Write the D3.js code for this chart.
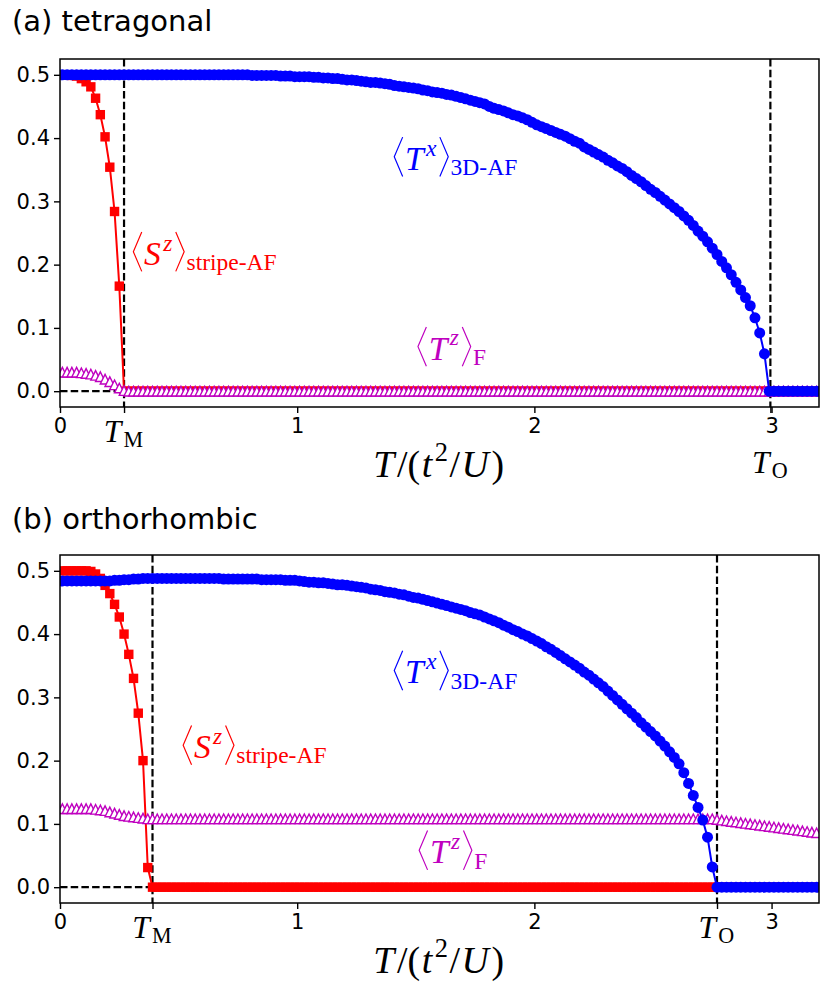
<!DOCTYPE html>
<html>
<head>
<meta charset="utf-8">
<script src="https://cdn.jsdelivr.net/npm/d3@7"></script>
<style>
  body { margin: 0; background: #fff; }
  svg { display: block; }
</style>
</head>
<body>
<div id="chart"></div>
<script>
// ------DATA------
// sample temperatures T/(t^2/U)
const temps = [
  0.01,0.03,0.05,0.07,0.09,0.11,0.13,0.15,0.17,0.19,
  0.21,0.23,0.25,0.27,0.29,0.31,0.33,0.35,0.37,0.39,
  0.41,0.43,0.45,0.47,0.49,0.51,0.53,0.55,0.57,0.59,
  0.61,0.63,0.65,0.67,0.69,0.71,0.73,0.75,0.77,0.79,
  0.81,0.83,0.85,0.87,0.89,0.91,0.93,0.95,0.97,0.99,
  1.01,1.03,1.05,1.07,1.09,1.11,1.13,1.15,1.17,1.19,
  1.21,1.23,1.25,1.27,1.29,1.31,1.33,1.35,1.37,1.39,
  1.41,1.43,1.45,1.47,1.49,1.51,1.53,1.55,1.57,1.59,
  1.61,1.63,1.65,1.67,1.69,1.71,1.73,1.75,1.77,1.79,
  1.81,1.83,1.85,1.87,1.89,1.91,1.93,1.95,1.97,1.99,
  2.01,2.03,2.05,2.07,2.09,2.11,2.13,2.15,2.17,2.19,
  2.21,2.23,2.25,2.27,2.29,2.31,2.33,2.35,2.37,2.39,
  2.41,2.43,2.45,2.47,2.49,2.51,2.53,2.55,2.57,2.59,
  2.61,2.63,2.65,2.67,2.69,2.71,2.73,2.75,2.77,2.79,
  2.81,2.83,2.85,2.87,2.89,2.91,2.93,2.95,2.97,2.99,
  3.01,3.03,3.05,3.07,3.09,3.11,3.13,3.15,3.17,3.19
]

// (a) tetragonal
const aStripe = [
  0.500,0.500,0.499,0.498,0.494,0.489,0.481,0.463,0.437,0.402,
  0.354,0.284,0.166,0,0,0,0,0,0,0,
  0,0,0,0,0,0,0,0,0,0,  0,0,0,0,0,0,0,0,0,0,
  0,0,0,0,0,0,0,0,0,0,  0,0,0,0,0,0,0,0,0,0,
  0,0,0,0,0,0,0,0,0,0,  0,0,0,0,0,0,0,0,0,0,
  0,0,0,0,0,0,0,0,0,0,  0,0,0,0,0,0,0,0,0,0,
  0,0,0,0,0,0,0,0,0,0,  0,0,0,0,0,0,0,0,0,0,
  0,0,0,0,0,0,0,0,0,0,  0,0,0,0,0,0,0,0,0,0,
  0,0,0,0,0,0,0,0,0,0,  0,0,0,0,0,0,0,0,0,0
]
const aTz = [
  0.030,0.030,0.030,0.030,0.029,0.028,0.027,0.025,0.023,0.019,
  0.015,0.010,0.005,0.001,0,0,0,0,0,0,
  0,0,0,0,0,0,0,0,0,0,  0,0,0,0,0,0,0,0,0,0,
  0,0,0,0,0,0,0,0,0,0,  0,0,0,0,0,0,0,0,0,0,
  0,0,0,0,0,0,0,0,0,0,  0,0,0,0,0,0,0,0,0,0,
  0,0,0,0,0,0,0,0,0,0,  0,0,0,0,0,0,0,0,0,0,
  0,0,0,0,0,0,0,0,0,0,  0,0,0,0,0,0,0,0,0,0,
  0,0,0,0,0,0,0,0,0,0,  0,0,0,0,0,0,0,0,0,0,
  0,0,0,0,0,0,0,0,0,0,  0,0,0,0,0,0,0,0,0,0
]
const aTx = [
  0.500,0.500,0.500,0.500,0.500,0.500,0.500,0.500,0.500,0.500,
  0.500,0.500,0.500,0.500,0.500,0.500,0.500,0.500,0.500,0.500,
  0.500,0.500,0.500,0.500,0.500,0.500,0.500,0.500,0.500,0.500,
  0.500,0.500,0.500,0.500,0.500,0.500,0.500,0.500,0.500,0.500,
  0.499,0.499,0.499,0.499,0.499,0.499,0.498,0.498,0.498,0.497,
  0.497,0.497,0.497,0.496,0.496,0.495,0.495,0.494,0.494,0.493,
  0.492,0.492,0.491,0.490,0.489,0.488,0.488,0.487,0.486,0.485,
  0.483,0.482,0.481,0.480,0.479,0.478,0.476,0.475,0.473,0.472,
  0.471,0.469,0.468,0.466,0.464,0.462,0.460,0.458,0.456,0.454,
  0.450,0.447,0.445,0.443,0.440,0.437,0.435,0.432,0.429,0.425,
  0.421,0.418,0.415,0.412,0.409,0.406,0.403,0.399,0.395,0.392,
  0.386,0.382,0.378,0.374,0.370,0.365,0.361,0.356,0.352,0.347,
  0.341,0.336,0.331,0.325,0.319,0.314,0.308,0.302,0.296,0.290,
  0.284,0.277,0.270,0.262,0.253,0.245,0.236,0.226,0.216,0.205,
  0.195,0.184,0.172,0.160,0.148,0.135,0.116,0.092,0.059,0,
  0,0,0,0,0,0,0,0,0,0
]

// (b) orthorhombic
const bStripe = [
  0.500,0.500,0.500,0.500,0.500,0.500,0.499,0.495,0.488,0.477,
  0.464,0.447,0.427,0.400,0.368,0.330,0.275,0.200,0.031,0,
  0,0,0,0,0,0,0,0,0,0,  0,0,0,0,0,0,0,0,0,0,
  0,0,0,0,0,0,0,0,0,0,  0,0,0,0,0,0,0,0,0,0,
  0,0,0,0,0,0,0,0,0,0,  0,0,0,0,0,0,0,0,0,0,
  0,0,0,0,0,0,0,0,0,0,  0,0,0,0,0,0,0,0,0,0,
  0,0,0,0,0,0,0,0,0,0,  0,0,0,0,0,0,0,0,0,0,
  0,0,0,0,0,0,0,0,0,0,  0,0,0,0,0,0,0,0,0,0,
  0,0,0,0,0,0,0,0,0,0,  0,0,0,0,0,0,0,0,0,0
]
const bTz = [
  0.124,0.124,0.124,0.124,0.124,0.124,0.124,0.123,0.122,0.121,
  0.119,0.117,0.115,0.113,0.112,0.111,0.110,0.109,0.108,0.108,
  0.108,0.108,0.108,0.108,0.108,0.108,0.108,0.108,0.108,0.108,
  0.108,0.108,0.108,0.108,0.108,0.108,0.108,0.108,0.108,0.108,
  0.108,0.108,0.108,0.108,0.108,0.108,0.108,0.108,0.108,0.108,
  0.108,0.108,0.108,0.108,0.108,0.108,0.108,0.108,0.108,0.108,
  0.108,0.108,0.108,0.108,0.108,0.108,0.108,0.108,0.108,0.108,
  0.108,0.108,0.108,0.108,0.108,0.108,0.108,0.108,0.108,0.108,
  0.108,0.108,0.108,0.108,0.108,0.108,0.108,0.108,0.108,0.108,
  0.108,0.108,0.108,0.108,0.108,0.108,0.108,0.108,0.108,0.108,
  0.108,0.108,0.108,0.108,0.108,0.108,0.108,0.108,0.108,0.108,
  0.108,0.108,0.108,0.108,0.108,0.108,0.108,0.108,0.108,0.108,
  0.108,0.108,0.108,0.108,0.108,0.108,0.108,0.108,0.108,0.108,
  0.108,0.108,0.108,0.108,0.108,0.108,0.108,0.108,0.107,0.106,
  0.105,0.104,0.103,0.102,0.101,0.100,0.099,0.098,0.097,0.096,
  0.095,0.094,0.093,0.092,0.091,0.090,0.089,0.088,0.087,0.086
]
const bTx = [
  0.484,0.484,0.484,0.484,0.484,0.484,0.484,0.484,0.484,0.484,
  0.484,0.485,0.485,0.486,0.486,0.487,0.487,0.488,0.488,0.488,
  0.488,0.488,0.488,0.488,0.488,0.488,0.488,0.488,0.488,0.488,
  0.488,0.488,0.488,0.488,0.487,0.487,0.487,0.487,0.487,0.487,
  0.487,0.487,0.486,0.486,0.486,0.486,0.486,0.485,0.485,0.485,
  0.484,0.483,0.482,0.482,0.481,0.481,0.480,0.479,0.478,0.478,
  0.477,0.476,0.475,0.474,0.473,0.471,0.470,0.469,0.467,0.466,
  0.465,0.463,0.462,0.460,0.458,0.457,0.455,0.453,0.451,0.449,
  0.447,0.445,0.443,0.441,0.439,0.437,0.434,0.432,0.430,0.427,
  0.424,0.421,0.418,0.414,0.411,0.407,0.404,0.400,0.397,0.393,
  0.389,0.385,0.380,0.376,0.371,0.366,0.361,0.356,0.351,0.346,
  0.340,0.335,0.329,0.323,0.317,0.310,0.303,0.296,0.289,0.282,
  0.275,0.268,0.260,0.253,0.246,0.239,0.231,0.223,0.214,0.205,
  0.195,0.181,0.164,0.145,0.126,0.106,0.079,0.032,0,0,
  0,0,0,0,0,0,0,0,0,0,
  0,0,0,0,0,0,0,0,0,0
]

const xTicks = [0, 1, 2, 3]
const yTicks = [0.0, 0.1, 0.2, 0.3, 0.4, 0.5]
// ------END OF DATA------

const width = 830, height = 995
const plotLeft = 60, plotRight = 819, plotH = 348
const mathFont = "'Liberation Serif', 'DejaVu Serif', serif"
const sansFont = "'DejaVu Sans', sans-serif"
const RED = "#ff0000", BLUE = "#0000ff", MAG = "#bf00bf"

// panel settings (positions in data units)
const panels = [
  { title: "(a) tetragonal", top: 59, titleY: 31,
    stripe: aStripe, tz: aTz, tx: aTx, tM: 0.27, tO: 2.995, tOShift: 31,
    txLabel: [1.405, 0.35], szLabel: [0.305, 0.20], tzLabel: [1.505, 0.05] },
  { title: "(b) orthorhombic", top: 555, titleY: 529,
    stripe: bStripe, tz: bTz, tx: bTx, tM: 0.39, tO: 2.77, tOShift: 0,
    txLabel: [1.405, 0.322], szLabel: [0.515, 0.204], tzLabel: [1.51, 0.038] }
]

const svg = d3.select("#chart").append("svg")
  .attr("width", width).attr("height", height)
  .attr("viewBox", `0 0 ${width} ${height}`)

svg.append("rect").attr("width", width).attr("height", height).attr("fill", "#fff")

// Lays out a small piece of math text, returns group and width
function mathLabel(parent, parts, size, color) {
  const g = parent.append("g")
  let cx = 0
  parts.forEach(([kind, str]) => {
    if (kind === "lb" || kind === "rb") {
      const w = 0.25 * size
      const top = -0.97 * size, bot = 0.2 * size, mid = (top + bot) / 2
      const x0 = cx + 0.03 * size
      const d = kind === "lb"
        ? `M${x0 + w},${top}L${x0},${mid}L${x0 + w},${bot}`
        : `M${x0},${top}L${x0 + w},${mid}L${x0},${bot}`
      g.append("path").attr("d", d).attr("fill", "none")
        .attr("stroke", color).attr("stroke-width", Math.max(1, size * 0.035))
      cx += w + 0.1 * size
      return
    }
    const small = kind.startsWith("sup") || kind.startsWith("sub")
    const fs = small ? size * 0.7 : size
    const dy = kind.startsWith("sup") ? -0.42 * size : kind.startsWith("sub") ? 0.16 * size : 0
    const italic = kind === "i" || kind === "supi"
    const t = g.append("text")
      .attr("x", cx).attr("y", dy)
      .attr("font-size", fs)
      .attr("font-family", mathFont)
      .attr("font-style", italic ? "italic" : "normal")
      .attr("fill", color)
      .text(str)
    cx += t.node().getComputedTextLength() + (italic ? 0.07 : 0.04) * size
  })
  return { g, width: cx }
}

panels.forEach((p, i) => {
  const x = d3.scaleLinear().domain([0, 3.2]).range([plotLeft, plotRight])
  const y = d3.scaleLinear().domain([-0.025, 0.525]).range([p.top + plotH, p.top])
  const bottom = p.top + plotH

  // title
  svg.append("text")
    .attr("x", 12).attr("y", p.titleY)
    .attr("font-family", sansFont).attr("font-size", 29)
    .text(p.title)

  // clip for data
  svg.append("clipPath").attr("id", "clip" + i)
    .append("rect").attr("x", plotLeft).attr("y", p.top)
    .attr("width", plotRight - plotLeft).attr("height", plotH)

  const plot = svg.append("g").attr("clip-path", `url(#clip${i})`)

  // dashed guide lines
  const dash = "7.5,3.2"
  const guide = (x1, x2, y1, y2) => plot.append("line")
    .attr("x1", x1).attr("x2", x2).attr("y1", y1).attr("y2", y2)
    .attr("stroke", "#000").attr("stroke-width", 2.2).attr("stroke-dasharray", dash)
  guide(x(p.tM), x(p.tM), p.top, bottom)
  guide(x(p.tO), x(p.tO), p.top, bottom)
  guide(x(0), x(p.tM), y(0), y(0))

  const line = d3.line().x((d, j) => x(temps[j])).y(d => y(d))

  // stripe-AF order (red squares)
  plot.append("path").datum(p.stripe).attr("d", line)
    .attr("fill", "none").attr("stroke", RED).attr("stroke-width", 2)
  plot.append("g").selectAll("rect").data(p.stripe).join("rect")
    .attr("x", (d, j) => x(temps[j]) - 4.7).attr("y", d => y(d) - 4.7)
    .attr("width", 9.4).attr("height", 9.4).attr("fill", RED)

  // ferro Tz (magenta open triangles)
  plot.append("path").datum(p.tz).attr("d", line)
    .attr("fill", "none").attr("stroke", MAG).attr("stroke-width", 2)
  const tri = 4.8
  plot.append("g").selectAll("path").data(p.tz).join("path")
    .attr("d", (d, j) => {
      const cx = x(temps[j]), cy = y(d)
      return `M${cx},${cy - tri}L${cx - tri},${cy + tri}L${cx + tri},${cy + tri}Z`
    })
    .attr("fill", "#fff").attr("stroke", MAG).attr("stroke-width", 1.4)

  // 3D-AF Tx (blue circles)
  plot.append("path").datum(p.tx).attr("d", line)
    .attr("fill", "none").attr("stroke", BLUE).attr("stroke-width", 2)
  plot.append("g").selectAll("circle").data(p.tx).join("circle")
    .attr("cx", (d, j) => x(temps[j])).attr("cy", d => y(d))
    .attr("r", 5.5).attr("fill", BLUE)

  // axes
  const yAxis = svg.append("g").attr("transform", `translate(${plotLeft},0)`)
    .call(d3.axisLeft(y).tickValues(yTicks).tickFormat(d3.format(".1f")).tickSize(6).tickPadding(4))
  const xAxis = svg.append("g").attr("transform", `translate(0,${bottom})`)
    .call(d3.axisBottom(x).tickValues(xTicks.concat([p.tM, p.tO]))
      .tickFormat(d => xTicks.includes(d) ? d3.format("d")(d) : "")
      .tickSize(6).tickPadding(5))
  ;[xAxis, yAxis].forEach(a => {
    a.select(".domain").remove()
    a.selectAll(".tick line").attr("stroke", "#000").attr("stroke-width", 1.4)
    a.selectAll(".tick text").attr("font-family", sansFont).attr("font-size", 21).attr("fill", "#000")
  })

  // frame
  svg.append("rect")
    .attr("x", plotLeft).attr("y", p.top)
    .attr("width", plotRight - plotLeft).attr("height", plotH)
    .attr("fill", "none").attr("stroke", "#000").attr("stroke-width", 1.5)

  // T_M and T_O tick labels
  const tickSize = 31.5
  const mLab = mathLabel(svg, [["i", "T"], ["sub", "M"]], tickSize, "#000")
  mLab.g.attr("transform", `translate(${x(p.tM) - mLab.width / 2},${bottom + 35})`)
  const oLab = mathLabel(svg, [["i", "T"], ["sub", "O"]], tickSize, "#000")
  oLab.g.attr("transform", `translate(${x(p.tO) - oLab.width / 2},${bottom + 35 + p.tOShift})`)

  // x axis label
  const xl = mathLabel(svg, [["i", "T"], ["r", "/("], ["i", "t"], ["supr", "2"], ["r", "/"], ["i", "U"], ["r", ")"]], 37.8, "#000")
  xl.g.attr("transform", `translate(${(plotLeft + plotRight) / 2 - xl.width / 2},${bottom + 70})`)

  // curve annotations
  const annSize = 33.6
  const txL = mathLabel(svg, [["lb"], ["i", "T"], ["supi", "x"], ["rb"], ["sub", "3D-AF"]], annSize, BLUE)
  txL.g.attr("transform", `translate(${x(p.txLabel[0])},${y(p.txLabel[1])})`)
  const szL = mathLabel(svg, [["lb"], ["i", "S"], ["supi", "z"], ["rb"], ["sub", "stripe-AF"]], annSize, RED)
  szL.g.attr("transform", `translate(${x(p.szLabel[0])},${y(p.szLabel[1])})`)
  const tzL = mathLabel(svg, [["lb"], ["i", "T"], ["supi", "z"], ["rb"], ["sub", "F"]], annSize, MAG)
  tzL.g.attr("transform", `translate(${x(p.tzLabel[0])},${y(p.tzLabel[1])})`)
})
</script>
</body>
</html>
